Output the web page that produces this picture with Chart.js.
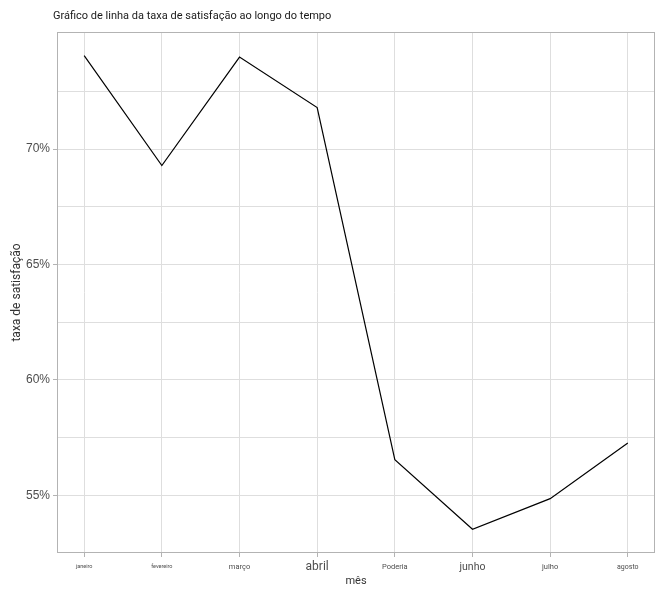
<!DOCTYPE html>
<html><head><meta charset="utf-8">
<script src="https://cdn.jsdelivr.net/npm/chart.js@4"></script>
<style>html,body{margin:0;padding:0;background:#fff}#wrap{width:662px;height:598px}</style>
</head><body><div id="wrap"><canvas id="c" width="662" height="598"></canvas></div>
<script>
const chartTitle = 'Gráfico de linha da taxa de satisfação ao longo do tempo';
const xAxisTitle = 'mês';
const yAxisTitle = 'taxa de satisfação';
const categories = ['janeiro', 'fevereiro', 'março', 'abril', 'Poderia', 'junho', 'julho', 'agosto'];
const satisfacao = [74.05, 69.29, 73.99, 71.80, 56.55, 53.53, 54.86, 57.27];
const yMajorTicks = [55, 60, 65, 70];
const yMinorTicks = [57.5, 62.5, 67.5, 72.5];

// styles (not data)
const xTickSizes = [5.5, 5.5, 7.5, 12, 7.5, 10.5, 7.5, 7];

const dMin = Math.min(...satisfacao), dMax = Math.max(...satisfacao);
const pad = (dMax - dMin) * 0.05;

const panelBorder = {
  id: 'panelBorder',
  beforeDatasetsDraw(chart) {
    const {ctx, chartArea: a} = chart;
    ctx.save();
    ctx.strokeStyle = '#b3b3b3';
    ctx.lineWidth = 1;
    ctx.strokeRect(a.left + 0.5, a.top + 0.5, a.right - a.left - 1, a.bottom - a.top - 1);
    ctx.restore();
  },
  afterDraw(chart) {
    const ctx = chart.ctx;
    ctx.save();
    ctx.font = '11px Roboto';
    ctx.fillStyle = '#1a1a1a';
    ctx.textBaseline = 'middle';
    ctx.textAlign = 'left';
    ctx.fillText(chartTitle, 53, 16);
    ctx.restore();
  }
};

new Chart(document.getElementById('c'), {
  type: 'line',
  data: {
    datasets: [{
      data: satisfacao.map((v, i) => ({x: i, y: v})),
      borderColor: '#000',
      borderWidth: 1.2,
      pointRadius: 0,
      tension: 0,
      fill: false
    }]
  },
  options: {
    responsive: false,
    animation: false,
    devicePixelRatio: 1,
    layout: {padding: {top: 32, right: 7, left: 0, bottom: 0}},
    plugins: {legend: {display: false}, tooltip: {enabled: false}, title: {display: false}},
    scales: {
      x: {
        type: 'linear',
        min: -0.35,
        max: categories.length - 1 + 0.35,
        afterBuildTicks: s => { s.ticks = categories.map((_, i) => ({value: i})); },
        afterFit: s => { s.height = 45; },
        border: {display: false},
        grid: {color: '#dedede', lineWidth: 1, tickColor: '#b3b3b3', tickLength: 4, drawTicks: true},
        ticks: {
          autoSkip: false, maxRotation: 0, padding: 3, color: '#4d4d4d',
          callback: v => categories[v],
          font: ctx => ({family: 'Roboto', size: xTickSizes[ctx.index] || 8, lineHeight: '14px'})
        },
        title: {display: true, text: xAxisTitle, color: '#333', font: {family: 'Roboto', size: 11}, padding: {top: 0, bottom: 10}}
      },
      y: {
        type: 'linear',
        min: dMin - pad,
        max: dMax + pad,
        afterBuildTicks: s => {
          s.ticks = [...yMajorTicks, ...yMinorTicks].sort((a, b) => a - b).map(v => ({value: v}));
        },
        afterFit: s => { s.width = 57; },
        border: {display: false},
        grid: {
          color: '#dedede', lineWidth: 1, tickLength: 4, drawTicks: true,
          tickColor: ctx => (ctx.tick && yMajorTicks.includes(ctx.tick.value)) ? '#b3b3b3' : 'rgba(0,0,0,0)'
        },
        ticks: {
          padding: 3, color: '#4d4d4d',
          font: {family: 'Liberation Sans', size: 12},
          callback: v => yMajorTicks.includes(v) ? v + '%' : ''
        },
        title: {display: true, text: yAxisTitle, color: '#333', font: {family: 'Roboto', size: 12}, padding: {top: 10, bottom: 0}}
      }
    }
  },
  plugins: [panelBorder]
});
</script></body></html>
